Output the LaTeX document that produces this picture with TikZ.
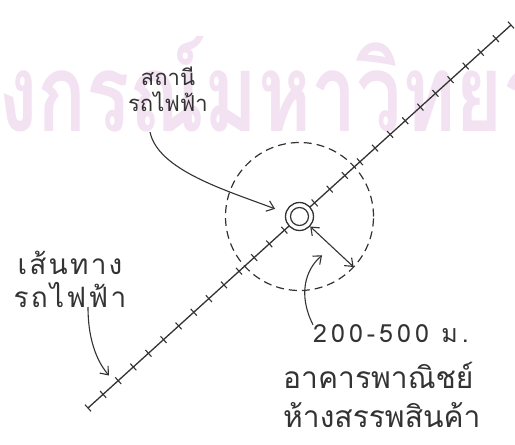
\documentclass[tikz,border=0pt]{standalone}
\usepackage{fontspec}
\usepackage{graphicx}
\newfontfamily\thaifont[Script=Thai]{Loma}
\usetikzlibrary{
  arrows.meta,
  calc
}
\definecolor{tlInk}{HTML}{333333}
\definecolor{tlWater}{RGB}{243,226,242}
\tikzset{
  railway/.style={line width=1.3pt, tlInk},
  railtick/.style={line width=1.1pt, tlInk},
  station/.style={draw=tlInk, circle, line width=1.3pt, fill=white, minimum size=28pt, inner sep=0pt},
  stationin/.style={draw=tlInk, circle, line width=1.2pt, minimum size=18pt, inner sep=0pt},
  zone/.style={draw=tlInk, dash pattern=on 8pt off 5pt, line width=1.2pt},
  pointer/.style={-{Straight Barb[length=7pt, width=11pt]}, line width=1.1pt, tlInk},
  span/.style={{Straight Barb[length=7pt, width=11pt]}-{Straight Barb[length=7pt, width=11pt]}, line width=1.1pt, tlInk},
  hand/.style={font=\thaifont\fontsize{22}{26}\selectfont, text=tlInk, align=center, inner sep=0pt},
  watermark/.style={font=\thaifont\bfseries, text=tlWater, inner sep=0pt, anchor=base west}
}
\begin{document}
\begin{tikzpicture}[x=1pt, y=-1pt]
  \useasboundingbox[fill=white] (0,0) rectangle (515,445);
  \node[watermark] (wm) at (-2,131) {\resizebox{550pt}{95pt}{งกรณ์มหาวิทยา}};

  % railway line with ticks
  \coordinate (lo) at (88,408);
  \coordinate (hi) at (511,25);
  \coordinate (far) at ($(lo)!2!(hi)$);
  \draw[railway] (lo) -- (hi);
  \foreach \k in {0,...,28}{
    \path ($(lo)!\k/28!(hi)$) coordinate (tk);
    \draw[railtick] ($(tk)!4.5pt!90:(far)$) -- ($(tk)!4.5pt!-90:(far)$);
  }

  % station and its catchment
  \node[station] (stn) at ($(lo)!0.5!(hi)$) {};
  \node[stationin] (stnin) at (stn) {};
  \draw[zone] (stn) circle [radius=74pt];
  \coordinate (rim) at ($(stn)+(-43:74pt)$);
  \draw[span] (stn.-43) -- (rim);
  \coordinate (spanmid) at ($(stn.-43)!0.5!(rim)$);

  % labels
  \node[hand] (lblstn) at (168,89) {สถานี\\รถไฟฟ้า};
  \node[hand, font=\thaifont\fontsize{28}{33}\selectfont\addfontfeatures{LetterSpace=8}] (lblroute) at (70,279) {เส้นทาง\\รถไฟฟ้า};
  \node[hand, anchor=west, font=\thaifont\fontsize{25}{30}\selectfont\addfontfeatures{LetterSpace=16}] (lbldist) at (313,334) {200-500 ม.};
  \node[hand, align=left, anchor=north west, font=\thaifont\fontsize{30}{39}\selectfont] (lblbldg) at (283,362) {อาคารพาณิชย์\\ห้างสรรพสินค้า};

  % pointers
  \coordinate (stnfrom) at (150,132);
  \draw[pointer, shorten >=11pt] (stnfrom) .. controls (158,170) and (225,190) .. (stn.165);
  \coordinate (rtfrom) at (88,307);
  \coordinate (rton) at ($(lo)!0.065!(hi)$);
  \draw[pointer, shorten >=10pt] (rtfrom) .. controls (88,345) and (100,365) .. (rton);
  \draw[pointer, shorten >=13pt] (lbldist.north west) .. controls (298,295) and (305,270) .. (spanmid);
\end{tikzpicture}
\end{document}
